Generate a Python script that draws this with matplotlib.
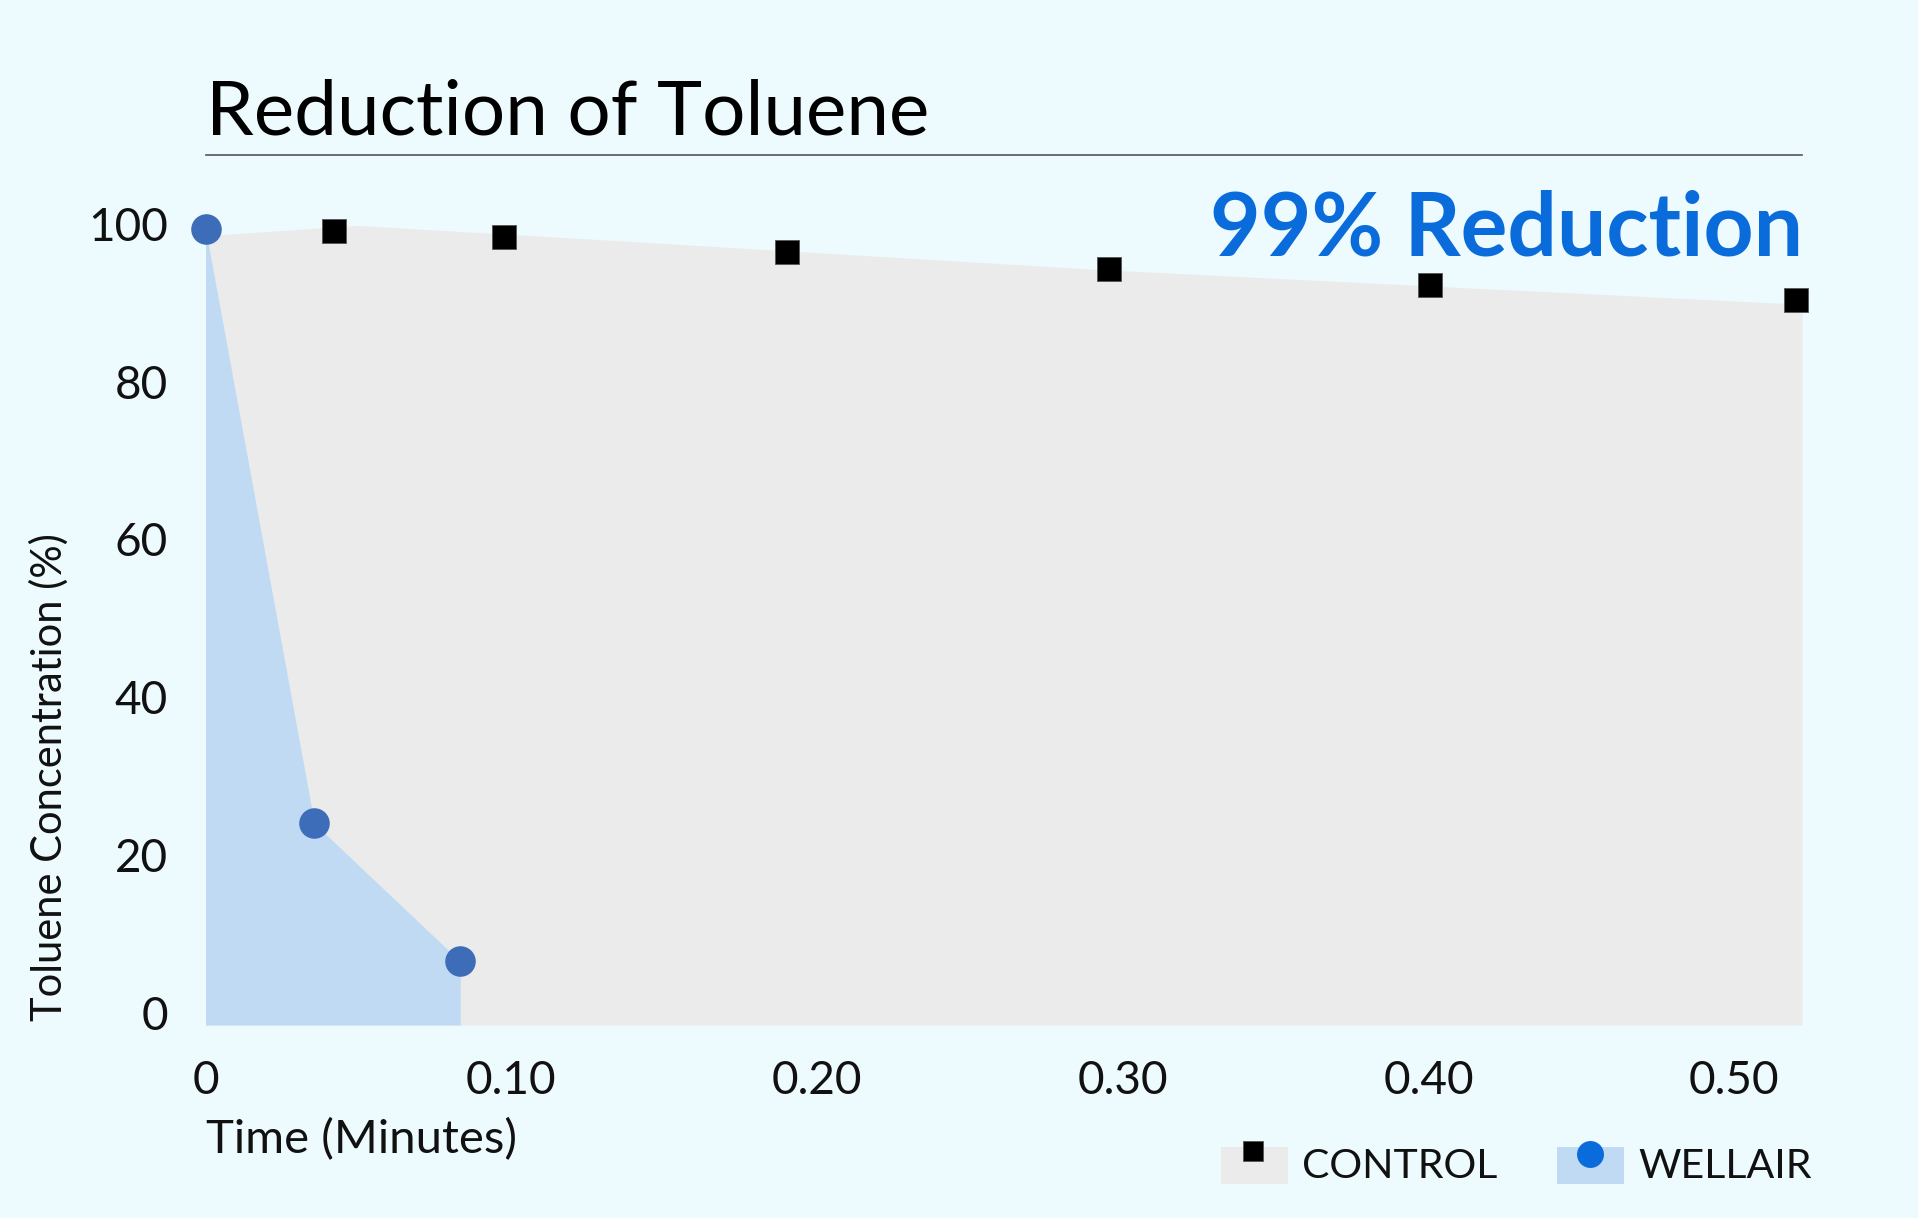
import matplotlib.pyplot as plt
from matplotlib.patches import Rectangle
from matplotlib.lines import Line2D

# data (time in minutes, concentration in %)
wellair_t = [0.0, 0.0356, 0.0833]
wellair_y = [99.4, 24.0, 6.5]

control_t = [0.0421, 0.0975, 0.1903, 0.2954, 0.4004, 0.5200]
control_y = [99.1, 98.3, 96.4, 94.3, 92.25, 90.3]

# outline of the grey control area
control_area_t = [0.0, 0.0495, 0.129, 0.2925, 0.5221]
control_area_y = [98.5, 99.8, 98.0, 94.2, 89.8]

x_ticks = [0, 0.1, 0.2, 0.3, 0.4, 0.5]
x_labels = ['0', '0.10', '0.20', '0.30', '0.40', '0.50']
y_ticks = [0, 20, 40, 60, 80, 100]

BG = '#edfafe'
GREY = '#eaebea'
LIGHTBLUE = '#c0daf4'
DOTBLUE = '#3d6cb9'
BRIGHTBLUE = '#0a6cdb'
INK = '#111111'

plt.rcParams['font.family'] = ['Lato', 'DejaVu Sans']

W, H = 1918, 1218
fig = plt.figure(figsize=(W / 100, H / 100), dpi=100, facecolor=BG)

# axes placed in pixel terms
left, right, top, bottom = 205.5, 1802, 192, 1025
ax = fig.add_axes([left / W, 1 - bottom / H, (right - left) / W, (bottom - top) / H])
ax.set_facecolor(BG)

ybot = -1.55
ax.set_xlim(0, 0.5221)
ax.set_ylim(ybot, 104.04)

# grey control area
ax.fill_between(control_area_t, control_area_y, ybot, color=GREY, lw=0, zorder=1)
# blue wellair area
ax.fill_between(wellair_t, wellair_y, ybot, color=LIGHTBLUE, lw=0, zorder=2)

ax.plot(control_t, control_y, ls='none', marker='s', ms=17.3, mfc='black',
        mec='#555555', mew=0.6, zorder=4, clip_on=False)
ax.plot(wellair_t, wellair_y, ls='none', marker='o', ms=22, mfc=DOTBLUE,
        mec=DOTBLUE, mew=0, zorder=5, clip_on=False)

for s in ax.spines.values():
    s.set_visible(False)

ax.set_xticks(x_ticks)
ax.set_xticklabels(x_labels)
ax.set_yticks(y_ticks)
ax.tick_params(length=0, labelsize=33, colors=INK)
ax.tick_params(axis='y', pad=27)
ax.tick_params(axis='x', pad=25)

# axis titles
fig.text(49 / W, 1 - 777 / H, 'Toluene Concentration (%)', rotation=90,
         ha='center', va='center', fontsize=30, color=INK)
fig.text(left / W, 1 - 1140 / H, 'Time (Minutes)', ha='left', va='center',
         fontsize=34, color=INK)

# title + rule
fig.text(left / W, 1 - 134.5 / H, 'Reduction of Toluene', ha='left', va='baseline',
         fontsize=55, color='black')
fig.add_artist(Line2D([left / W, right / W], [1 - 155.3 / H, 1 - 155.3 / H],
                      color='#555555', lw=1.2))

# headline
fig.text(1803 / W, 1 - 256 / H, '99% Reduction', ha='right', va='baseline',
         fontsize=63, fontweight='bold', color=BRIGHTBLUE)

# legend drawn by hand
fig.add_artist(Rectangle((1221 / W, 1 - 1184 / H), 67 / W, 37 / H,
                         transform=fig.transFigure, color=GREY, lw=0))
fig.add_artist(Line2D([1252.5 / W], [1 - 1151 / H], marker='s', ms=14.4,
                      mfc='black', mec='#555555', mew=0.6, ls='none'))
fig.text(1301.5 / W, 1 - 1166 / H, 'CONTROL', ha='left', va='center',
         fontsize=29.5, color=INK)
fig.add_artist(Rectangle((1557 / W, 1 - 1184 / H), 67 / W, 37 / H,
                         transform=fig.transFigure, color=LIGHTBLUE, lw=0))
fig.add_artist(Line2D([1590 / W], [1 - 1153.5 / H], marker='o', ms=19.4,
                      mfc=BRIGHTBLUE, mew=0, ls='none'))
fig.text(1638 / W, 1 - 1166 / H, 'WELLAIR', ha='left', va='center',
         fontsize=29.5, color=INK)

fig.savefig('out.png', dpi=100, facecolor=BG)
